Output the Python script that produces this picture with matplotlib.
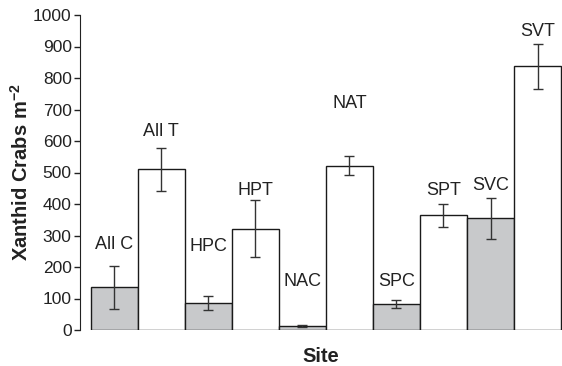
import matplotlib
matplotlib.use('Agg')
import matplotlib.pyplot as plt
import numpy as np

plt.rcParams['font.family'] = ['Liberation Sans', 'DejaVu Sans']
plt.rcParams['mathtext.default'] = 'regular'

sites = ['All C', 'All T', 'HPC', 'HPT', 'NAC', 'NAT', 'SPC', 'SPT', 'SVC', 'SVT']
means = [135, 510, 85, 322, 12, 522, 82, 364, 355, 837]
errors = [67, 68, 23, 90, 3, 30, 12, 37, 65, 72]
label_y = [270, 630, 265, 442, 153, 720, 153, 444, 460, 947]
is_control = [True, False, True, False, True, False, True, False, True, False]

GREY = '#c8c9cb'
TEXT = '#222222'

fig = plt.figure(figsize=(5.62, 3.66), dpi=100)
ax = fig.add_axes([80 / 562, 1 - 330 / 366, 482 / 562, 315 / 366])

x = np.arange(len(sites))
colors = [GREY if c else 'white' for c in is_control]
ax.bar(x, means, width=1.0, color=colors, edgecolor='#1a1a1a', linewidth=1.0, zorder=2)
ax.errorbar(x, means, yerr=errors, fmt='none', ecolor='#333333', elinewidth=1.0,
            capsize=3.5, capthick=1.0, zorder=3)

for xi, name, ly in zip(x, sites, label_y):
    ax.text(xi, ly, name, ha='center', va='center', fontsize=13, color=TEXT)

ax.set_xlim(-0.727, 9.52)
ax.set_ylim(0, 1000)
ax.set_yticks(np.arange(0, 1001, 100))
ax.set_xticks([])
for s in ['top', 'right', 'bottom']:
    ax.spines[s].set_visible(False)
ax.spines['left'].set_color('#222222')
ax.tick_params(axis='y', direction='out', length=4, width=1, labelsize=12.5,
               colors='#222222', pad=2)

ax.set_ylabel(r'Xanthid Crabs m$^{-2}$', fontsize=14.5, fontweight='bold', color=TEXT, labelpad=1)
ax.set_xlabel('Site', fontsize=14.5, fontweight='bold', color=TEXT, labelpad=12)

fig.savefig('out.png', dpi=100)
